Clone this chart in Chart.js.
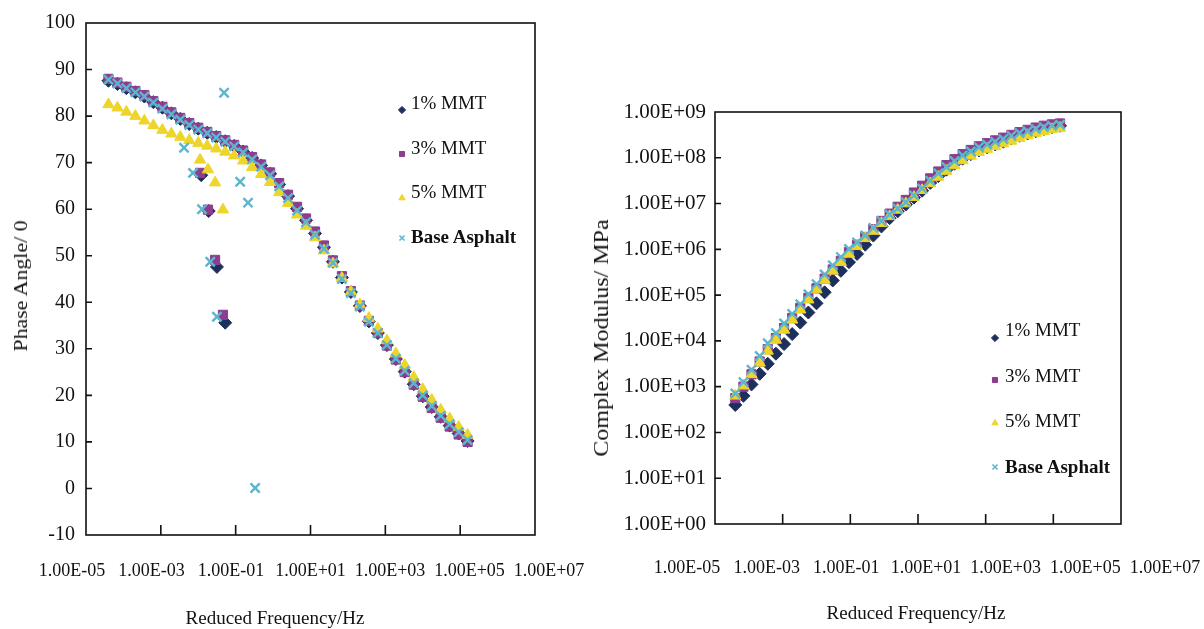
<!DOCTYPE html>
<html>
<head>
<meta charset="utf-8">
<script src="https://cdn.jsdelivr.net/npm/chart.js@4.4.1/dist/chart.umd.min.js"></script>
<style>
  html, body { margin: 0; padding: 0; background: #fff; }
  body { width: 1204px; height: 629px; position: relative; overflow: hidden;
         font-family: "Liberation Serif", "Times New Roman", serif; color: #111; }
  canvas { position: absolute; top: 0; }
  #phaseChart { left: 0; }
  #modulusChart { left: 590px; }
  .title { position: absolute; font-size: 19px; white-space: nowrap; line-height: 20px;
           transform: translate(-50%, -50%); }
  .ytitle { transform: translate(-50%, -50%) rotate(-90deg) scaleX(1.15); }
  .ytitle.big { font-size: 20px; transform: translate(-50%, -50%) rotate(-90deg) scaleX(1.2); }
  .item { position: absolute; font-size: 19px; line-height: 20px; white-space: nowrap; }
  .mark { position: absolute; }
</style>
</head>
<body>
<canvas id="phaseChart" width="590" height="629"></canvas>
<canvas id="modulusChart" width="614" height="629"></canvas>

<div class="title ytitle" style="left:21px; top:286px">Phase Angle/ 0</div>
<div class="title" style="left:275px; top:618px">Reduced Frequency/Hz</div>
<div class="title ytitle big" style="left:601px; top:338px">Complex Modulus/ MPa</div>
<div class="title" style="left:916px; top:613px">Reduced Frequency/Hz</div>

<script>
const seriesNames = ['1% MMT', '3% MMT', '5% MMT', 'Base Asphalt']
const seriesColors = ['#1d2f5c', '#8e3c8e', '#eed52a', '#5cb6cd']
const pointStyles = ['rectRot', 'rect', 'triangle', 'crossRot']

// reduced frequency, Hz (shared by the master curves)
const freq = [3.98e-5, 6.92e-5, 1.20e-4, 2.09e-4, 3.63e-4, 6.31e-4, 1.10e-3, 1.91e-3, 3.31e-3, 5.75e-3,
  1.00e-2, 1.74e-2, 3.02e-2, 5.25e-2, 9.12e-2, 0.158, 0.275, 0.479, 0.832, 1.45,
  2.51, 4.37, 7.59, 13.2, 22.9, 39.8, 69.2, 120, 209, 363,
  631, 1100, 1910, 3310, 5750, 10000, 17400, 30200, 52500, 91200, 158000]

// phase angle, degrees
const phase1 = [87.6, 86.9, 86.0, 85.1, 84.2, 83.0, 81.8, 80.6, 79.4, 78.3, 77.3, 76.4, 75.5, 74.6, 73.6,
  72.4, 71.0, 69.4, 67.6, 65.3, 62.8, 60.1, 57.6, 54.8, 51.8, 48.7, 45.3, 42.2, 39.2, 35.9,
  33.4, 30.8, 27.8, 25.1, 22.4, 19.8, 17.5, 15.4, 13.5, 11.8, 10.2]
const phase3 = [88.0, 87.2, 86.3, 85.4, 84.5, 83.2, 82.0, 80.8, 79.6, 78.5, 77.5, 76.6, 75.7, 74.8, 73.8,
  72.6, 71.2, 69.6, 67.9, 65.6, 63.1, 60.5, 58.0, 55.2, 52.2, 49.0, 45.6, 42.4, 39.3, 36.0,
  33.4, 30.7, 27.7, 25.0, 22.3, 19.7, 17.3, 15.2, 13.3, 11.6, 10.0]
const phase5 = [82.5, 81.8, 80.9, 80.0, 79.0, 78.0, 77.0, 76.2, 75.5, 74.8, 74.2, 73.6, 73.0, 72.3, 71.5,
  70.4, 69.0, 67.5, 65.8, 63.6, 61.3, 58.8, 56.4, 53.9, 51.1, 48.3, 45.2, 42.3, 39.5, 36.6,
  34.3, 31.8, 29.0, 26.5, 23.9, 21.3, 19.0, 16.9, 15.0, 13.2, 11.5]
const phaseBase = [87.8, 87.0, 86.0, 85.1, 84.2, 82.9, 81.6, 80.4, 79.2, 78.1, 77.1, 76.3, 75.4, 74.5, 73.5,
  72.2, 70.7, 69.1, 67.3, 64.9, 62.4, 59.7, 57.2, 54.5, 51.5, 48.5, 45.0, 42.0, 39.1, 35.8,
  33.4, 30.8, 27.9, 25.3, 22.6, 20.0, 17.7, 15.6, 13.8, 12.1, 10.4]

// scattered low-frequency points of the phase plot
const outFreq1 = [1.20e-2, 1.90e-2, 3.16e-2, 5.25e-2]
const outPhase1 = [67.3, 59.6, 47.6, 35.6]
const outFreq3 = [1.12e-2, 1.82e-2, 2.82e-2, 4.57e-2]
const outPhase3 = [67.8, 59.9, 49.1, 37.3]
const outFreq5 = [1.12e-2, 1.82e-2, 2.82e-2, 4.57e-2]
const outPhase5 = [70.6, 68.5, 65.7, 59.9]
const outFreqBase = [4.17e-3, 7.24e-3, 1.26e-2, 2.09e-2, 3.16e-2, 4.90e-2, 0.132, 0.214, 0.331]
const outPhaseBase = [73.2, 67.8, 60.0, 48.7, 36.9, 85.0, 65.9, 61.4, 0.1]

// complex modulus, MPa
const modulus1 = [3.98e2, 6.31e2, 1.12e3, 1.91e3, 3.16e3, 5.25e3, 8.51e3, 1.41e4, 2.51e4, 4.17e4,
  6.61e4, 1.15e5, 2.09e5, 3.39e5, 5.25e5, 7.94e5, 1.26e6, 2.00e6, 3.16e6, 4.79e6,
  6.76e6, 9.55e6, 1.35e7, 1.91e7, 2.82e7, 3.98e7, 5.50e7, 7.41e7, 9.55e7, 1.20e8,
  1.45e8, 1.70e8, 1.95e8, 2.24e8, 2.63e8, 3.02e8, 3.39e8, 3.80e8, 4.27e8, 4.68e8, 5.01e8]
const modulus3 = [5.62e2, 1.00e3, 1.86e3, 3.55e3, 6.61e3, 1.15e4, 1.91e4, 3.16e4, 5.25e4, 8.71e4,
  1.41e5, 2.29e5, 3.63e5, 5.62e5, 8.71e5, 1.26e6, 1.86e6, 2.75e6, 4.17e6, 6.03e6,
  8.51e6, 1.20e7, 1.74e7, 2.45e7, 3.55e7, 5.01e7, 6.92e7, 9.33e7, 1.20e8, 1.48e8,
  1.78e8, 2.09e8, 2.40e8, 2.75e8, 3.16e8, 3.63e8, 4.07e8, 4.57e8, 5.01e8, 5.37e8, 5.62e8]
const modulus5 = [6.31e2, 1.05e3, 1.86e3, 3.31e3, 6.03e3, 1.05e4, 1.74e4, 2.88e4, 4.79e4, 7.94e4,
  1.32e5, 2.14e5, 3.39e5, 5.25e5, 7.94e5, 1.17e6, 1.74e6, 2.51e6, 3.72e6, 5.25e6,
  7.24e6, 1.00e7, 1.38e7, 1.95e7, 2.75e7, 3.80e7, 5.13e7, 6.76e7, 8.71e7, 1.10e8,
  1.32e8, 1.55e8, 1.78e8, 2.04e8, 2.34e8, 2.69e8, 3.09e8, 3.47e8, 3.80e8, 4.17e8, 4.47e8]
const modulusBase = [7.08e2, 1.26e3, 2.34e3, 4.68e3, 8.91e3, 1.48e4, 2.40e4, 3.89e4, 6.31e4, 1.05e5,
  1.74e5, 2.82e5, 4.47e5, 6.76e5, 1.02e6, 1.41e6, 2.00e6, 2.95e6, 4.17e6, 5.75e6,
  7.76e6, 1.07e7, 1.51e7, 2.14e7, 3.16e7, 4.57e7, 6.31e7, 8.51e7, 1.12e8, 1.38e8,
  1.70e8, 1.95e8, 2.24e8, 2.57e8, 3.02e8, 3.47e8, 3.80e8, 4.27e8, 4.68e8, 5.01e8, 5.25e8]

// ticks
const xTickLabels = [1e-5, 1e-3, 1e-1, 1e1, 1e3, 1e5, 1e7]
const xTickMarks = [1e-3, 1e-1, 1e1, 1e3, 1e5]
const phaseTickMarks = [0, 10, 20, 30, 40, 50, 60, 70, 80, 90]
const modulusTicks = [1e0, 1e1, 1e2, 1e3, 1e4, 1e5, 1e6, 1e7, 1e8, 1e9]

const points = (xs, ys) => xs.map((x, i) => ({ x, y: ys[i] }))

const sci = v => {
  const e = Math.round(Math.log10(v))
  return '1.00E' + (e < 0 ? '-' : '+') + String(Math.abs(e)).padStart(2, '0')
}

const makeDataset = (i, data) => ({
  label: seriesNames[i],
  data,
  pointStyle: pointStyles[i],
  pointRadius: i === 3 ? 6.5 : 6.5,
  pointHoverRadius: 6.5,
  pointBorderWidth: i === 3 ? 2.4 : 1,
  backgroundColor: seriesColors[i],
  borderColor: seriesColors[i],
  order: 4 - i
})

// marco del área y marcas de graduación hacia adentro
const framePlugin = {
  id: 'frame',
  afterDatasetsDraw(chart, args, opts) {
    const { ctx, chartArea: a, scales } = chart
    ctx.save()
    ctx.strokeStyle = '#111'
    ctx.lineWidth = 1.6
    ctx.strokeRect(a.left, a.top, a.right - a.left, a.bottom - a.top)
    ctx.beginPath()
    opts.xMarks.forEach(v => {
      const px = scales.x.getPixelForValue(v)
      ctx.moveTo(px, a.bottom)
      ctx.lineTo(px, a.bottom - 10)
    })
    opts.yMarks.forEach(v => {
      const py = scales.y.getPixelForValue(v)
      ctx.moveTo(a.left, py)
      ctx.lineTo(a.left + 6, py)
    })
    ctx.stroke()
    ctx.restore()
  }
}

const font = size => ({ family: '"Liberation Serif", "Times New Roman", serif', size })

// sin relleno extra de las etiquetas, el área queda donde se pide
const noPadding = s => { s.paddingLeft = 0; s.paddingRight = 0; s.paddingTop = 0; s.paddingBottom = 0 }

const makeChart = (id, datasets, cfg) => new Chart(document.getElementById(id), {
  type: 'scatter',
  data: { datasets },
  plugins: [framePlugin],
  options: {
    responsive: false,
    animation: false,
    events: [],
    layout: { padding: cfg.padding },
    plugins: {
      legend: { display: false },
      tooltip: { enabled: false },
      frame: { xMarks: xTickMarks, yMarks: cfg.yMarks }
    },
    scales: {
      x: {
        type: 'logarithmic', position: 'bottom', min: 1e-5, max: 1e7,
        grid: { display: false }, border: { display: false },
        ticks: { display: false },
        afterFit: s => { s.height = 0; noPadding(s) }
      },
      xl: {
        type: 'logarithmic', position: 'bottom', bounds: 'data',
        min: cfg.labelMin, max: cfg.labelMax,
        grid: { display: false, drawTicks: false }, border: { display: false },
        afterBuildTicks: s => { s.ticks = xTickLabels.map(value => ({ value })) },
        ticks: { autoSkip: false, maxRotation: 0, padding: cfg.xPad, color: '#111', font: font(18), callback: v => sci(v) },
        afterFit: s => { s.height = cfg.xHeight; noPadding(s) }
      },
      y: cfg.y
    }
  }
})

// gráfico del ángulo de fase
makeChart('phaseChart', [
  makeDataset(0, points(freq, phase1).concat(points(outFreq1, outPhase1))),
  makeDataset(1, points(freq, phase3).concat(points(outFreq3, outPhase3))),
  makeDataset(2, points(freq, phase5).concat(points(outFreq5, outPhase5))),
  makeDataset(3, points(freq, phaseBase).concat(points(outFreqBase, outPhaseBase)))
], {
  padding: { left: 0, top: 23, right: 55, bottom: 0 },
  labelMin: 2.25e-5, labelMax: 4.45e6, xPad: 25, xHeight: 94,
  yMarks: phaseTickMarks,
  y: {
    type: 'linear', min: -10, max: 100,
    grid: { display: false, drawTicks: false }, border: { display: false },
    ticks: { stepSize: 10, padding: 11, color: '#111', font: font(20) },
    afterFit: s => { s.width = 86; noPadding(s) }
  }
})

// gráfico del módulo complejo
makeChart('modulusChart', [
  makeDataset(0, points(freq, modulus1)),
  makeDataset(1, points(freq, modulus3)),
  makeDataset(2, points(freq, modulus5)),
  makeDataset(3, points(freq, modulusBase))
], {
  padding: { left: 0, top: 112, right: 83, bottom: 0 },
  labelMin: 5.05e-5, labelMax: 7.87e5, xPad: 33, xHeight: 105,
  yMarks: modulusTicks.slice(1, -1),
  y: {
    type: 'logarithmic', min: 1, max: 1e9,
    grid: { display: false, drawTicks: false }, border: { display: false },
    afterBuildTicks: s => { s.ticks = modulusTicks.map(value => ({ value })) },
    ticks: { autoSkip: false, padding: 9, color: '#111', font: font(21), callback: v => sci(v) },
    afterFit: s => { s.width = 125; noPadding(s) }
  }
})

// leyendas dentro del área de trazado
const legendBoxes = [
  { markX: 402, textX: 411, textY: [103, 148, 192, 237], markY: [110, 154, 198, 238] },
  { markX: 995, textX: 1005, textY: [330, 376, 421, 467], markY: [338, 380, 423, 467] }
]

legendBoxes.forEach(box => {
  seriesNames.forEach((name, i) => {
    const text = document.createElement('div')
    text.className = 'item'
    text.textContent = name
    text.style.left = box.textX + 'px'
    text.style.top = (box.textY[i] - 10) + 'px'
    if (i === 3) text.style.fontWeight = 'bold'
    document.body.appendChild(text)

    const mark = document.createElement('canvas')
    mark.className = 'mark'
    mark.width = 12
    mark.height = 12
    mark.style.left = (box.markX - 6) + 'px'
    mark.style.top = (box.markY[i] - 6) + 'px'
    document.body.appendChild(mark)
    const ctx = mark.getContext('2d')
    ctx.fillStyle = seriesColors[i]
    ctx.strokeStyle = seriesColors[i]
    ctx.lineWidth = i === 3 ? 1.6 : 1
    Chart.helpers.drawPoint(ctx, { pointStyle: pointStyles[i], radius: 3.6, rotation: 0, borderWidth: ctx.lineWidth }, 6, 6)
  })
})
</script>
</body>
</html>
